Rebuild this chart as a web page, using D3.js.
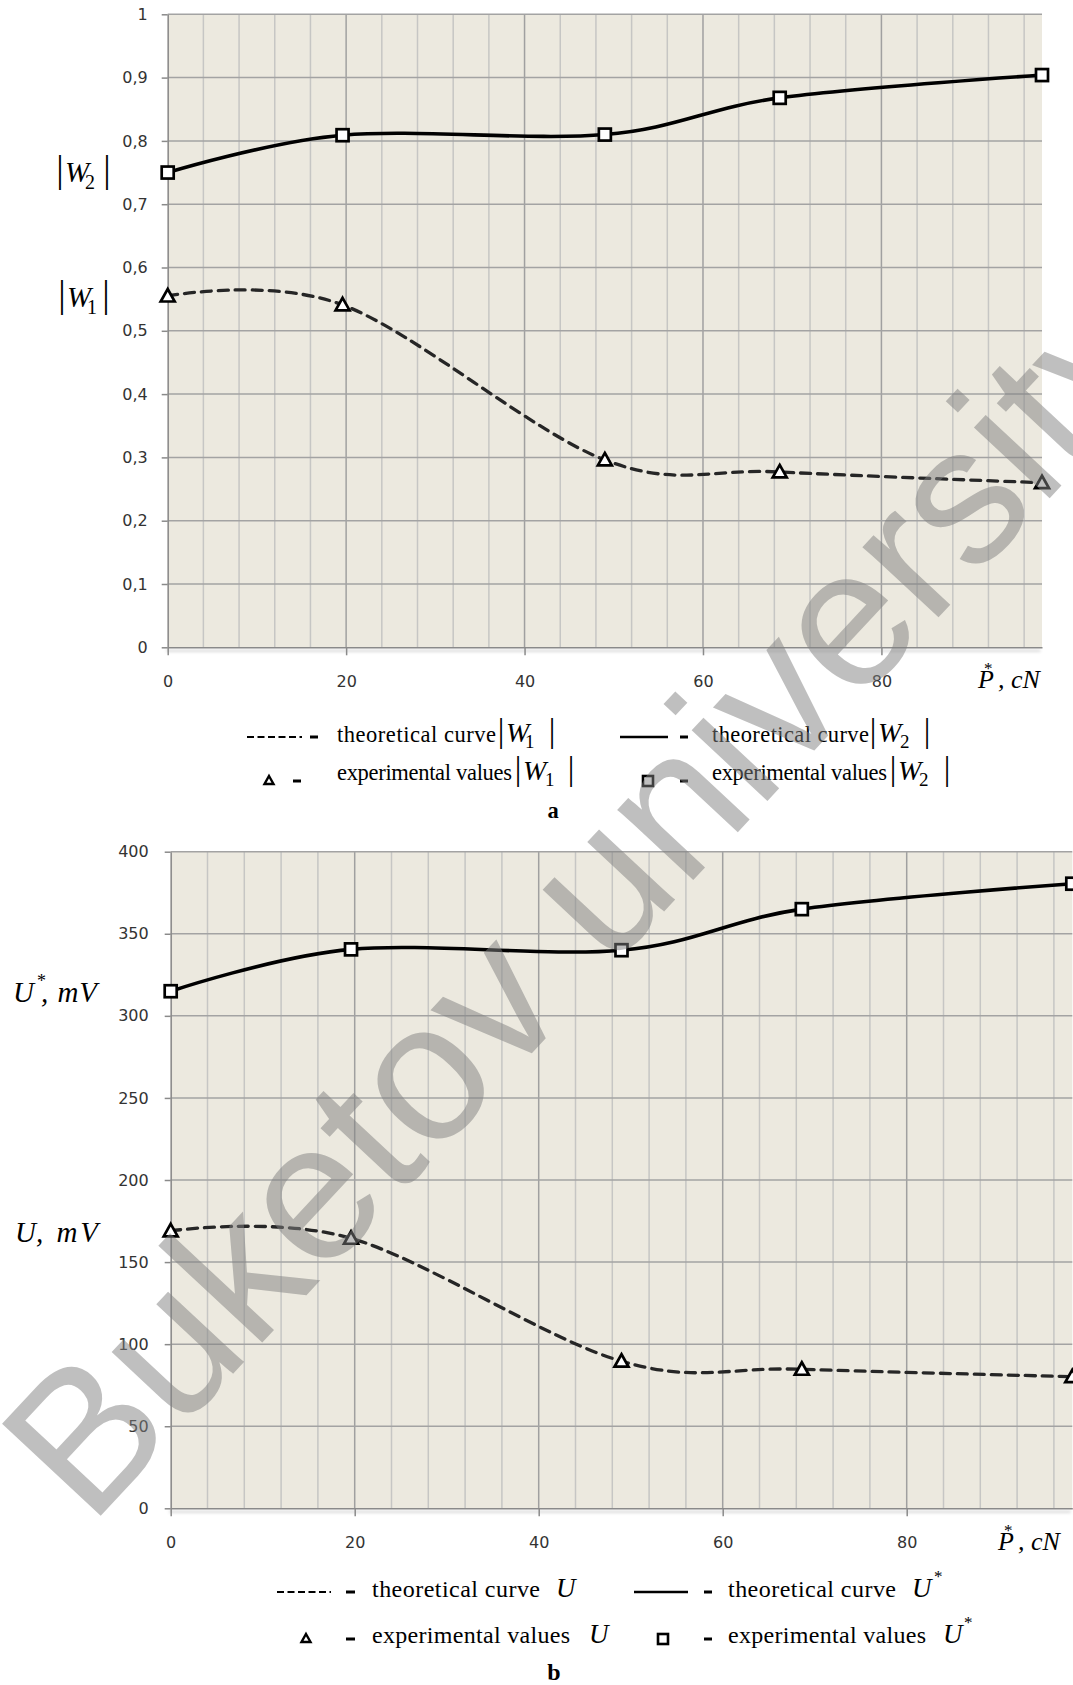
<!DOCTYPE html>
<html>
<head>
<meta charset="utf-8">
<script src="https://cdn.jsdelivr.net/npm/d3@7"></script>
<style>
body { margin: 0; background: #fff; }
svg { display: block; }
</style>
</head>
<body>
<div id="mainDiv"></div>
<script>
'use strict';

// force P*, cN - same abscissa in both panels
var pressure = [0, 19.6, 49, 68.6, 98];

// panel a: |W1| and |W2|
var w1Values = [0.555, 0.541, 0.296, 0.277, 0.260];
var w2Values = [0.750, 0.809, 0.810, 0.868, 0.904];
var yTicksA = [0, 0.1, 0.2, 0.3, 0.4, 0.5, 0.6, 0.7, 0.8, 0.9, 1];

// panel b: U and U*, mV
var uValues = [169, 164.5, 89.6, 84.7, 80.2];
var uStarValues = [315, 340.5, 340, 365, 380.5];
var yTicksB = [0, 50, 100, 150, 200, 250, 300, 350, 400];

// x axis
var xTicks = [0, 20, 40, 60, 80];
var xGrid = [4, 8, 12, 16, 20, 24, 28, 32, 36, 40, 44, 48, 52, 56, 60, 64, 68, 72, 76, 80, 84, 88, 92, 96];
var xMax = 98;

var W = 1073, H = 1685;
var serif = '"Liberation Serif", "Times New Roman", serif';

var svg = d3.select('#mainDiv').append('svg')
    .attr('width', W)
    .attr('height', H);

// soft shadow under the axis lines (Excel look)
var shadow = svg.append('defs').append('filter')
    .attr('id', 'axisShadow')
    .attr('filterUnits', 'userSpaceOnUse')
    .attr('x', 0).attr('y', 0).attr('width', W).attr('height', H);
shadow.append('feDropShadow')
    .attr('dx', -2).attr('dy', 3)
    .attr('stdDeviation', 1.8)
    .attr('flood-color', '#000')
    .attr('flood-opacity', 0.22);

var smooth = d3.curveCardinal.tension(0);

function fmtA(d) { return (d === 0 || d === 1) ? String(d) : d3.format('.1f')(d).replace('.', ','); }

function drawPanel(p, lower, upper)
{
    var x = d3.scaleLinear().domain([0, xMax]).range([p.left, p.right]);
    var y = d3.scaleLinear().domain([0, p.yMax]).range([p.bottom, p.top]);
    var g = svg.append('g');

    g.append('rect')
        .attr('x', p.left).attr('y', p.top)
        .attr('width', p.right - p.left).attr('height', p.bottom - p.top)
        .attr('fill', '#ece9df');

    g.selectAll('.vgrid').data(xGrid).enter().append('line')
        .attr('x1', function(d) { return x(d); })
        .attr('x2', function(d) { return x(d); })
        .attr('y1', p.top).attr('y2', p.bottom)
        .attr('stroke', function(d) { return d % 20 === 0 ? '#a0a0a0' : '#c6c6c4'; })
        .attr('stroke-width', 1.5);

    g.selectAll('.hgrid').data(p.ticks.filter(function(d) { return d > 0; })).enter().append('line')
        .attr('x1', p.left).attr('x2', p.right)
        .attr('y1', function(d) { return y(d); })
        .attr('y2', function(d) { return y(d); })
        .attr('stroke', '#a3a3a3')
        .attr('stroke-width', 1.5);

    var yAxis = d3.axisLeft(y).tickValues(p.ticks).tickSize(6).tickSizeOuter(0)
        .tickPadding(p.pad).tickFormat(p.fmt);
    var xAxis = d3.axisBottom(x).tickValues(xTicks).tickSize(8).tickSizeOuter(0)
        .tickPadding(20).tickFormat(d3.format('d'));

    var yg = g.append('g').attr('transform', 'translate(' + p.left + ',0)').call(yAxis);
    var xg = g.append('g').attr('transform', 'translate(0,' + p.bottom + ')').call(xAxis);

    [yg, xg].forEach(function(a) {
        a.attr('font-family', '"DejaVu Sans", Verdana, sans-serif').attr('font-size', 16);
        a.selectAll('line').attr('stroke', '#8a8a8a').attr('stroke-width', 1.5);
        a.select('.domain').attr('stroke', '#8a8a8a').attr('stroke-width', 1.5)
            .attr('filter', 'url(#axisShadow)');
        a.selectAll('text').attr('fill', '#333');
    });

    var line = d3.line().curve(smooth)
        .x(function(d, i) { return x(pressure[i]); })
        .y(function(d) { return y(d); });

    g.append('path').datum(lower)
        .attr('d', line)
        .attr('fill', 'none')
        .attr('stroke', '#262626')
        .attr('stroke-width', 3.3)
        .attr('stroke-linecap', 'round')
        .attr('stroke-dasharray', '10,7');

    g.append('path').datum(upper)
        .attr('d', line)
        .attr('fill', 'none')
        .attr('stroke', '#000')
        .attr('stroke-width', 3.6);

    // experimental values: triangles on the lower curve, squares on the upper
    g.selectAll('.tri').data(lower).enter().append('path')
        .attr('d', 'M0,-7L7,5.5L-7,5.5Z')
        .attr('transform', function(d, i) { return 'translate(' + x(pressure[i]) + ',' + y(d) + ')'; })
        .attr('fill', '#fff').attr('stroke', '#000').attr('stroke-width', 2.7);

    g.selectAll('.sq').data(upper).enter().append('rect')
        .attr('x', function(d, i) { return x(pressure[i]) - 6; })
        .attr('y', function(d) { return y(d) - 6; })
        .attr('width', 12).attr('height', 12)
        .attr('fill', '#fff').attr('stroke', '#000').attr('stroke-width', 2.7);

    // abscissa name
    var t = g.append('g').attr('font-family', serif).attr('font-style', 'italic').attr('fill', '#000');
    t.append('text').attr('x', p.pX).attr('y', p.pY).attr('font-size', 26).text('P');
    t.append('text').attr('x', p.pX + 6).attr('y', p.pY - 14).attr('font-size', 17).attr('font-style', 'normal').text('*');
    t.append('text').attr('x', p.pX + 20).attr('y', p.pY).attr('font-size', 26).text(', cN');

    return g;
}

// |W_n| drawn from separate pieces so the bars can be taller than the letter
function absW(g, x0, base, o)
{
    g.append('text').attr('x', x0).attr('y', base).attr('text-anchor', 'middle')
        .attr('font-size', o.bar).text('|');
    g.append('text').attr('x', x0 + 5).attr('y', base).attr('font-style', 'italic')
        .attr('font-size', o.w).text('W');
    g.append('text').attr('x', x0 + o.sx).attr('y', base + o.sdy)
        .attr('font-size', o.sub).text(o.s);
    g.append('text').attr('x', x0 + o.gap).attr('y', base).attr('text-anchor', 'middle')
        .attr('font-size', o.bar).text('|');
}

function legendDash(g, x1, x2, yy)
{
    g.append('line').attr('x1', x1).attr('x2', x2).attr('y1', yy).attr('y2', yy)
        .attr('stroke', '#000').attr('stroke-width', 3);
}

function legendText(g, x, y, txt, len)
{
    g.append('text').attr('x', x).attr('y', y)
        .attr('textLength', len).attr('lengthAdjust', 'spacing')
        .text(txt);
}

// ---------------- panel a ----------------
drawPanel({left: 167.7, right: 1042, top: 14.3, bottom: 647.3, yMax: 1,
           ticks: yTicksA, fmt: fmtA, pad: 14, pX: 978, pY: 688}, w1Values, w2Values);

var la = svg.append('g').attr('font-family', serif).attr('fill', '#000');
absW(la, 60, 182, {bar: 37, w: 29, sub: 20, sx: 25, sdy: 7, gap: 47, s: '2'});
absW(la, 62, 307, {bar: 37, w: 29, sub: 20, sx: 25, sdy: 7, gap: 44, s: '1'});

var lgA = svg.append('g').attr('font-family', serif).attr('font-size', 22.5).attr('fill', '#000');
lgA.append('line').attr('x1', 247).attr('x2', 302).attr('y1', 737).attr('y2', 737)
    .attr('stroke', '#000').attr('stroke-width', 1.8).attr('stroke-dasharray', '7,3.5');
legendDash(lgA, 310, 318, 737);
legendText(lgA, 337, 742, 'theoretical curve', 159);
absW(lgA, 501, 742, {bar: 33, w: 28, sub: 19, sx: 24, sdy: 6, gap: 51, s: '1'});

lgA.append('line').attr('x1', 620).attr('x2', 668).attr('y1', 737).attr('y2', 737)
    .attr('stroke', '#000').attr('stroke-width', 2.6);
legendDash(lgA, 680, 688, 737);
legendText(lgA, 712, 742, 'theoretical curve', 157);
absW(lgA, 873, 742, {bar: 33, w: 28, sub: 19, sx: 27, sdy: 6, gap: 54, s: '2'});

lgA.append('path').attr('d', 'M269,776L273.5,784L264.5,784Z')
    .attr('fill', '#fff').attr('stroke', '#000').attr('stroke-width', 2.4);
legendDash(lgA, 293, 301, 781);
legendText(lgA, 337, 780, 'experimental values', 175);
absW(lgA, 518, 780, {bar: 33, w: 28, sub: 19, sx: 27, sdy: 6, gap: 53, s: '1'});

lgA.append('rect').attr('x', 643).attr('y', 776).attr('width', 10).attr('height', 10)
    .attr('fill', '#fff').attr('stroke', '#000').attr('stroke-width', 2.6);
legendDash(lgA, 680, 688, 781);
legendText(lgA, 712, 780, 'experimental values', 175);
absW(lgA, 893, 780, {bar: 33, w: 28, sub: 19, sx: 26, sdy: 6, gap: 54, s: '2'});

lgA.append('text').attr('x', 553).attr('y', 818).attr('text-anchor', 'middle')
    .attr('font-weight', 'bold').text('a');

// ---------------- panel b ----------------
drawPanel({left: 170.7, right: 1072.3, top: 851.7, bottom: 1508.3, yMax: 400,
           ticks: yTicksB, fmt: d3.format('d'), pad: 16, pX: 998, pY: 1550}, uValues, uStarValues);

var lb = svg.append('g').attr('font-family', serif).attr('font-style', 'italic').attr('fill', '#000');
lb.append('text').attr('x', 13).attr('y', 1002).attr('font-size', 29).text('U');
lb.append('text').attr('x', 37).attr('y', 987).attr('font-size', 18).attr('font-style', 'normal').text('*');
lb.append('text').attr('x', 41).attr('y', 1002).attr('font-size', 29)
    .attr('textLength', 56).attr('lengthAdjust', 'spacing').text(', mV');
lb.append('text').attr('x', 15).attr('y', 1242).attr('font-size', 29).text('U');
lb.append('text').attr('x', 36).attr('y', 1242).attr('font-size', 29)
    .attr('textLength', 62).attr('lengthAdjust', 'spacing').text(', mV');

var lgB = svg.append('g').attr('font-family', serif).attr('font-size', 24).attr('fill', '#000');
lgB.append('line').attr('x1', 277).attr('x2', 331).attr('y1', 1592).attr('y2', 1592)
    .attr('stroke', '#000').attr('stroke-width', 1.8).attr('stroke-dasharray', '7,3.5');
legendDash(lgB, 346, 355, 1592);
legendText(lgB, 372, 1597, 'theoretical curve', 168);
lgB.append('text').attr('x', 556).attr('y', 1597).attr('font-style', 'italic').attr('font-size', 27).text('U');

lgB.append('line').attr('x1', 634).attr('x2', 688).attr('y1', 1592).attr('y2', 1592)
    .attr('stroke', '#000').attr('stroke-width', 2.6);
legendDash(lgB, 704, 712, 1592);
legendText(lgB, 728, 1597, 'theoretical curve', 168);
lgB.append('text').attr('x', 912).attr('y', 1597).attr('font-style', 'italic').attr('font-size', 27).text('U');
lgB.append('text').attr('x', 934).attr('y', 1582).attr('font-size', 17).text('*');

lgB.append('path').attr('d', 'M306,1634L310.5,1642L301.5,1642Z')
    .attr('fill', '#fff').attr('stroke', '#000').attr('stroke-width', 2.4);
legendDash(lgB, 346, 355, 1639);
legendText(lgB, 372, 1643, 'experimental values', 198);
lgB.append('text').attr('x', 589).attr('y', 1643).attr('font-style', 'italic').attr('font-size', 27).text('U');

lgB.append('rect').attr('x', 658).attr('y', 1634).attr('width', 10).attr('height', 10)
    .attr('fill', '#fff').attr('stroke', '#000').attr('stroke-width', 2.6);
legendDash(lgB, 704, 712, 1639);
legendText(lgB, 728, 1643, 'experimental values', 198);
lgB.append('text').attr('x', 943).attr('y', 1643).attr('font-style', 'italic').attr('font-size', 27).text('U');
lgB.append('text').attr('x', 964).attr('y', 1628).attr('font-size', 17).text('*');

lgB.append('text').attr('x', 554).attr('y', 1680).attr('text-anchor', 'middle')
    .attr('font-weight', 'bold').text('b');

// watermark
svg.append('text')
    .attr('transform', 'translate(632,946) rotate(-47)')
    .attr('text-anchor', 'middle')
    .attr('font-family', '"Liberation Sans", Arial, sans-serif')
    .attr('font-size', 196)
    .attr('fill', '#808080')
    .attr('fill-opacity', 0.5)
    .text('Buketov university');
</script>
</body>
</html>
